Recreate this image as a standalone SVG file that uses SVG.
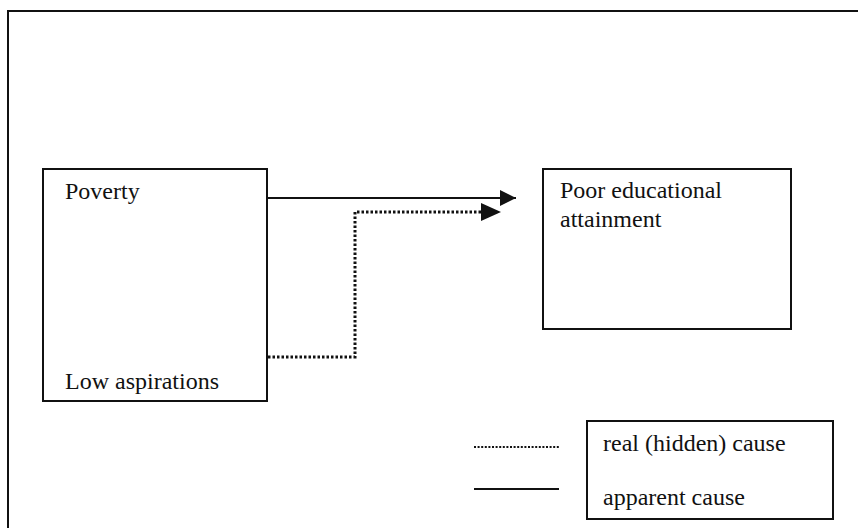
<svg xmlns="http://www.w3.org/2000/svg" width="858" height="528" viewBox="0 0 858 528">
  <style>
    .box { fill: #fff; stroke: #111; stroke-width: 2; }
    .label { font-family: "Liberation Serif", "Times New Roman", serif; font-size: 24px; fill: #111; }
    .solid { fill: none; stroke: #111; stroke-width: 2; }
    .dotted { fill: none; stroke: #111; stroke-width: 3; stroke-dasharray: 2.5 2; }
    .legend-dotted { fill: none; stroke: #111; stroke-width: 2.2; stroke-dasharray: 2 1.6; }
  </style>
  <defs>
    <marker id="head" viewBox="0 0 10 10" refX="10" refY="5" markerWidth="18" markerHeight="16" markerUnits="userSpaceOnUse" orient="auto">
      <path d="M0,0 L10,5 L0,10 Z" fill="#111"/>
    </marker>
  </defs>

  <rect width="858" height="528" fill="#fff"/>

  <!-- page frame -->
  <path d="M8,528 L8,11 L858,11" fill="none" stroke="#111" stroke-width="2"/>

  <g id="node-causes">
    <rect class="box" x="43" y="169" width="224" height="232"/>
    <text class="label" x="65" y="199">Poverty</text>
    <text class="label" x="65" y="389">Low aspirations</text>
  </g>

  <g id="node-attainment">
    <rect class="box" x="543" y="169" width="248" height="160"/>
    <text class="label" x="560" y="198">Poor educational</text>
    <text class="label" x="560" y="227">attainment</text>
  </g>

  <g id="connectors">
    <path class="solid" d="M268,198 L516,198" marker-end="url(#head)"/>
    <path class="dotted" d="M268,357 L355,357 L355,212 L484,212"/>
    <path d="M481,203 L501,212 L481,221 Z" fill="#111"/>
  </g>

  <g id="legend">
    <line class="legend-dotted" x1="474" y1="447" x2="559" y2="447"/>
    <line class="solid" x1="474" y1="489" x2="559" y2="489"/>
    <rect class="box" x="587" y="421" width="246" height="98"/>
    <text class="label" x="603" y="451">real (hidden) cause</text>
    <text class="label" x="603" y="505">apparent cause</text>
  </g>
</svg>
